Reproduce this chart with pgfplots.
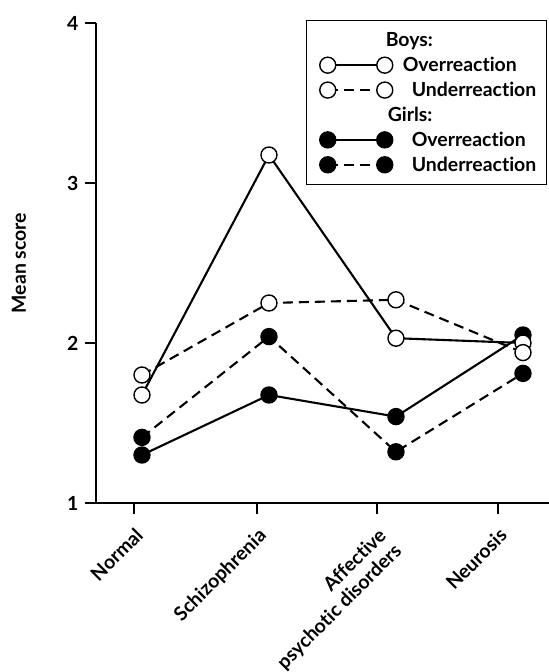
\documentclass[border=0pt]{standalone}
\usepackage{fontspec}
\setmainfont{Lato}[Ligatures={NoCommon}]
\usepackage{pgfplots}
\pgfplotsset{compat=1.18}
\newcommand{\lbl}{\bfseries\fontsize{19.5}{22}\selectfont}
\pgfplotsset{
  limg/.style={legend image code/.code={\path[draw=none,fill=none] (-13bp,-8bp) rectangle (65bp,8bp); \draw[mark repeat=1,##1] plot coordinates {(0bp,0bp) (57bp,0bp)};}},
  boysover/.style={black, line width=2.1bp, solid, mark=*, mark size=8bp, mark options={solid, fill=white, draw=black, line width=1.4bp}},
  boysunder/.style={black, line width=2.1bp, dash pattern=on 10bp off 6bp, mark=*, mark size=8bp, mark options={solid, fill=white, draw=black, line width=1.4bp}},
  girlsover/.style={black, line width=2.1bp, solid, mark=*, mark size=8bp, mark options={solid, fill=black, draw=black, line width=1.4bp}},
  girlsunder/.style={black, line width=2.1bp, dash pattern=on 10bp off 6bp, mark=*, mark size=8bp, mark options={solid, fill=black, draw=black, line width=1.4bp}},
}
\begin{document}
\begin{tikzpicture}
\begin{axis}[name=ax,
  scale only axis, width=453bp, height=480bp,
  xmin=-0.362, xmax=3.205, ymin=1, ymax=4,
  clip=false,
  axis x line*=bottom, axis y line*=left,
  axis line style={line width=2bp, black},
  tick align=outside,
  major tick length=11bp,
  tick style={line width=2bp, black},
  xtick={-0.063,0.906,1.850,2.803},
  xticklabels={Normal, Schizophrenia, {Affective\\psychotic disorders}, Neurosis},
  xticklabel style={rotate=45, anchor=north east, align=right, font=\lbl, inner sep=1bp},
  xticklabel shift=11bp,
  ytick={1,2,3,4},
  yticklabels={1,2,3,4},
  yticklabel style={font=\lbl, xshift=-3bp},
  ylabel={Mean score},
  ylabel style={font=\lbl, at={(axis description cs:-0.170,0.5)}, anchor=center},
  legend style={at={(axis description cs:1,1)}, anchor=north east, xshift=-2bp, yshift=3bp,
    draw=black, line width=1.4bp, font=\lbl, row sep=5bp, column sep=8bp, inner xsep=8bp, inner ysep=10bp},
  legend cell align=left,
]
\addlegendimage{empty legend}\addlegendentry{\hspace*{-17bp}Boys:}
\addlegendimage{boysover, limg}\addlegendentry{Overreaction}
\addlegendimage{boysunder, limg}\addlegendentry{\hspace*{9bp}Underreaction}
\addlegendimage{empty legend}\addlegendentry{\hspace*{-15bp}Girls:}
\addlegendimage{girlsover, limg}\addlegendentry{\hspace*{9bp}Overreaction}
\addlegendimage{girlsunder, limg}\addlegendentry{\hspace*{9bp}Underreaction}

\addplot[girlsunder, forget plot] coordinates {(0,1.41) (1,2.04) (2,1.32) (3,1.81)};
\addplot[girlsover, forget plot] coordinates {(0,1.30) (1,1.675) (2,1.54) (3,2.05)};
\addplot[boysover, forget plot] coordinates {(0,1.675) (1,3.175) (2,2.03) (3,2.00)};
\addplot[boysunder, forget plot] coordinates {(0,1.80) (1,2.25) (2,2.27) (3,1.94)};
\end{axis}
\pgfresetboundingbox
\path ([shift={(-96bp,-169bp)}]ax.south west) rectangle ([shift={(0bp,23bp)}]ax.north east);
\end{tikzpicture}
\end{document}
